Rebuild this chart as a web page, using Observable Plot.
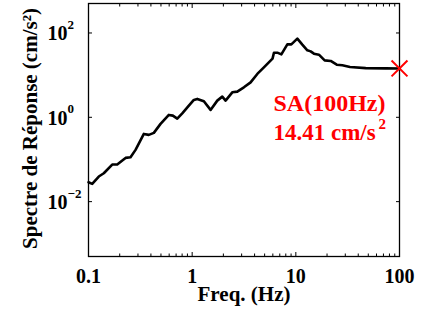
<!DOCTYPE html>
<html><head><meta charset="utf-8">
<script src="https://cdn.jsdelivr.net/npm/d3@7"></script>
<script src="https://cdn.jsdelivr.net/npm/@observablehq/plot@0.6"></script>
<style>body{margin:0;background:#fff;}</style>
</head><body><div id="chart"></div>
<script>
const freq = [0.1, 0.1086, 0.1257, 0.1405, 0.1693, 0.1892, 0.2276, 0.2543, 0.2843, 0.3418, 0.382, 0.4269, 0.4954, 0.5958, 0.651, 0.718, 0.8025, 0.929, 1.038, 1.12, 1.297, 1.505, 1.747, 1.952, 2.101, 2.438, 2.725, 3.155, 3.663, 4.25, 4.92, 5.96, 6.15, 6.63, 7.25, 8.28, 9.05, 10.34, 11.55, 12.91, 13.9, 14.95, 16.7, 18.97, 21.7, 24.8, 28.1, 33.3, 47.2, 73.6, 100];
const sa = [0.0288, 0.0264, 0.0394, 0.0471, 0.0757, 0.0757, 0.109, 0.1128, 0.1688, 0.404, 0.383, 0.427, 0.698, 1.14, 1.097, 0.931, 1.244, 1.893, 2.584, 2.73, 2.394, 1.497, 2.487, 3.094, 2.487, 3.91, 4.06, 5.14, 6.75, 10.67, 15.3, 24.6, 34.1, 34.1, 31.1, 53.7, 53.7, 73.3, 52.8, 38.7, 36.6, 32.3, 30.6, 22.4, 21.7, 17.7, 17.1, 15.6, 14.65, 14.45, 14.41];
const xTicks = [0.1, 1, 10, 100];
const xMinor = [0.2, 0.3, 0.4, 0.5, 0.6, 0.7, 0.8, 0.9, 2, 3, 4, 5, 6, 7, 8, 9, 20, 30, 40, 50, 60, 70, 80, 90];
const yTicks = [0.01, 1, 100];
const yExp = ["\u22122", "0", "2"];
const saFreq = [100];
const saValue = [14.41];
const annotLine1 = "SA(100Hz)";
const annotLine2 = "14.41 cm/s";
const annotExp = "2";
const xLabel = "Freq. (Hz)";
const yLabel = "Spectre de Réponse (cm/s²)";

const data = freq.map((f, i) => ({f, v: sa[i]}));
const pt = saFreq.map((f, i) => ({f, v: saValue[i]}));
const font = "'Liberation Serif', 'Times New Roman', serif";

const chart = Plot.plot({
  width: 422, height: 311,
  marginLeft: 88, marginRight: 23, marginTop: 3, marginBottom: 55,
  style: {fontFamily: font, fontWeight: "bold", fontSize: "20px", background: "#fff", color: "black", overflow: "visible"},
  x: {type: "log", domain: [0.1, 100]},
  y: {type: "log", domain: [5e-4, 500]},
  marks: [
    Plot.axisX(xTicks, {anchor: "bottom", tickSize: -4, text: null, label: null, strokeWidth: 1}),
    Plot.axisX(xTicks, {anchor: "top", tickSize: -4, text: null, label: null, strokeWidth: 1}),
    Plot.axisX(xMinor, {anchor: "bottom", tickSize: -2.5, text: null, label: null, strokeWidth: 1}),
    Plot.axisX(xMinor, {anchor: "top", tickSize: -2.5, text: null, label: null, strokeWidth: 1}),
    Plot.axisY(yTicks, {anchor: "left", tickSize: -4, text: null, label: null, strokeWidth: 1}),
    Plot.axisY(yTicks, {anchor: "right", tickSize: -4, text: null, label: null, strokeWidth: 1}),
    Plot.text(xTicks, {x: d => d, text: d => String(d), frameAnchor: "bottom", textAnchor: "middle", lineAnchor: "top", dy: 12, fontSize: 20, fontWeight: "bold"}),
    Plot.text(yTicks, {y: d => d, text: () => "10", frameAnchor: "left", textAnchor: "start", dx: -41, dy: 1, fontSize: 20, fontWeight: "bold"}),
    Plot.text(yTicks, {y: d => d, text: (d, i) => yExp[i], frameAnchor: "left", textAnchor: "start", dx: -21, dy: -8, fontSize: 13, fontWeight: "bold"}),
    Plot.line(data, {x: "f", y: "v", stroke: "black", strokeWidth: 2.6, curve: "linear", strokeLinejoin: "round"}),
    Plot.frame({stroke: "black", strokeWidth: 1.3}),
    Plot.dot(pt, {x: "f", y: "v", symbol: "times", r: 7.3, stroke: "red", strokeWidth: 2}),
    Plot.text(pt, {x: "f", y: "v", text: () => annotLine1, textAnchor: "start", dx: -126, dy: 34.6, fill: "red", fontSize: 24, fontWeight: "bold"}),
    Plot.text(pt, {x: "f", y: "v", text: () => annotLine2, textAnchor: "start", dx: -126, dy: 64.6, fill: "red", fontSize: 23, fontWeight: "bold"}),
    Plot.text(pt, {x: "f", y: "v", text: () => annotExp, textAnchor: "start", dx: -21, dy: 56, fill: "red", fontSize: 15, fontWeight: "bold"}),
    Plot.text([xLabel], {text: d => d, frameAnchor: "bottom", textAnchor: "middle", dy: 44, fontSize: 21, fontWeight: "bold"}),
    Plot.text([yLabel], {text: d => d, frameAnchor: "left", textAnchor: "middle", rotate: -90, dx: -58, dy: -1.5, fontSize: 21, fontWeight: "bold"})
  ]
});
document.getElementById("chart").appendChild(chart);
</script>
</body></html>
